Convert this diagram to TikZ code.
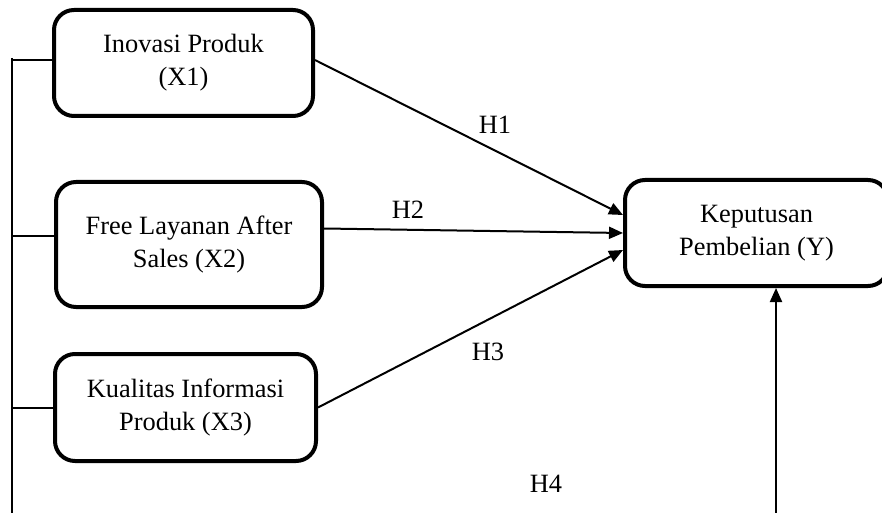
\documentclass[tikz,border=0pt]{standalone}
\usepackage{fontspec}
\setmainfont{Liberation Serif}
\usepackage{tikz}
\usetikzlibrary{arrows.meta,positioning,calc}

\begin{document}
\begin{tikzpicture}[x=0.5pt, y=-0.5pt, font=\fontsize{13.2}{16.5}\selectfont,
  var/.style={draw=black, line width=2pt, rounded corners=10pt, align=center, inner sep=2pt},
  link/.style={black, line width=1pt},
  arr/.style={-{Triangle[length=7pt,width=6pt]}, black, line width=1pt}]
  \useasboundingbox (0,0) rectangle (882,513);
  % independent variables
  \node[var, minimum width=129.5pt, minimum height=53pt] (inovasi) at (183.5,63) {Inovasi Produk\\(X1)};
  \node[var, minimum width=133pt, minimum height=62.5pt] (layanan) at (189,244.5) {Free Layanan After\\Sales (X2)};
  \node[var, minimum width=130.5pt, minimum height=53.5pt] (informasi) at (185.5,407.5) {Kualitas Informasi\\Produk (X3)};
  % dependent variable (runs off the right edge)
  \node[var, minimum width=131.5pt, minimum height=53pt] (keputusan) at (756.5,233) {Keputusan\\Pembelian (Y)};
  % rail on the left joining X1..X3
  \coordinate (railtop) at (12,58);
  \coordinate (railbot) at (12,513);
  \draw[link] (railtop) -- (railbot);
  \draw[link] ([yshift=1.5pt]inovasi.west) -- ([yshift=1.5pt]inovasi.west -| railtop);
  \draw[link] ([yshift=4.5pt]layanan.west) -- ([yshift=4.5pt]layanan.west -| railtop);
  \draw[link] (informasi.west) -- (informasi.west -| railtop);
  % partial effects
  \draw[arr] ([yshift=1.5pt]inovasi.east) -- ([yshift=9pt]keputusan.west);
  \draw[arr] ([yshift=8pt]layanan.east) -- (keputusan.west);
  \draw[arr] (informasi.east) -- ([yshift=-8.5pt]keputusan.west);
  % simultaneous effect
  \coordinate (h4foot) at (776,513);
  \draw[arr] (h4foot) -- (h4foot |- keputusan.south);
  % hypothesis labels
  \node (h1) at (495,125) {H1};
  \node (h2) at (408,210) {H2};
  \node (h3) at (488,352) {H3};
  \node (h4) at (546,484) {H4};
\end{tikzpicture}
\end{document}
